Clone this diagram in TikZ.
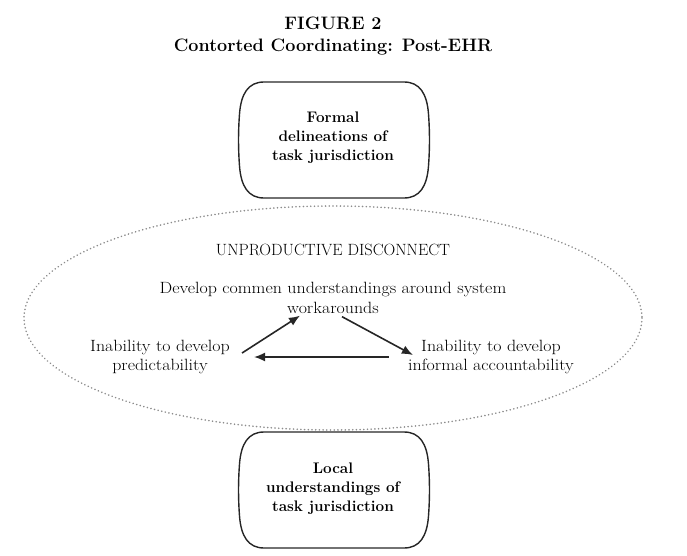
\documentclass[tikz,border=0pt]{standalone}
\usepackage{fontspec}
\newfontfamily\widefont[FakeStretch=1.1]{Latin Modern Roman}
\usetikzlibrary{arrows.meta,calc}
\begin{document}
\begin{tikzpicture}[x=1pt,y=-1pt,
  txt/.style={font=\widefont\fontsize{16.3}{19.5}\selectfont,align=center,inner sep=0pt},
  boxtxt/.style={font=\bfseries\fontsize{15.3}{19}\selectfont,align=center,inner sep=0pt},
  stadium/.style={draw=black!85,line width=1.4pt},
  arr/.style={draw=black!85,line width=1.6pt,-{Latex[length=11pt,width=9pt]}},
]
\def\stadiumshape{(25,0) -- (165,0) .. controls (181,0) and (188,12) .. (189.5,32) .. controls (190.8,50) and (190.8,66) .. (189.5,84) .. controls (188,104) and (181,116) .. (165,116) -- (25,116) .. controls (9,116) and (2,104) .. (0.5,84) .. controls (-0.8,66) and (-0.8,50) .. (0.5,32) .. controls (2,12) and (9,0) .. (25,0) -- cycle}
\useasboundingbox (0,0) rectangle (687,556);
\node[font=\bfseries\fontsize{18}{22}\selectfont,align=center,inner sep=0pt] (title) at (333,36) {FIGURE 2\\Contorted Coordinating: Post-EHR};
% top box
\begin{scope}[shift={(239,82)}]
\draw[stadium] \stadiumshape;
\end{scope}
\node[boxtxt] (formal) at (333,138) {Formal\\delineations of\\task jurisdiction};
% ellipse
\draw[black!45,line width=1.7pt,dash pattern=on 0.1pt off 3.6pt,line cap=round] (333,318) ellipse [x radius=309,y radius=112];
\node[font=\fontsize{16.3}{19.5}\selectfont,inner sep=0pt] (unprod) at (333,250) {UNPRODUCTIVE DISCONNECT};
\node[txt] (dev) at (333,298) {Develop commen understandings around system\\workarounds};
\node[txt] (pred) at (160,357) {Inability to develop\\predictability};
\node[txt] (acct) at (491,357) {Inability to develop\\informal accountability};
% bottom box
\begin{scope}[shift={(239,432)}]
\draw[stadium] \stadiumshape;
\end{scope}
\node[boxtxt] (local) at (333,489) {Local\\understandings of\\task jurisdiction};
% arrows
\draw[arr] ($(pred.east)+(12,-4)$) -- ($(dev.south)+(-33,2)$);
\draw[arr] ($(dev.south)+(9,3)$) -- ($(acct.west)+(5,-2)$);
\draw[arr] ($(acct.west)+(-19,0)$) -- ($(pred.east)+(24,0)$);
\end{tikzpicture}
\end{document}
